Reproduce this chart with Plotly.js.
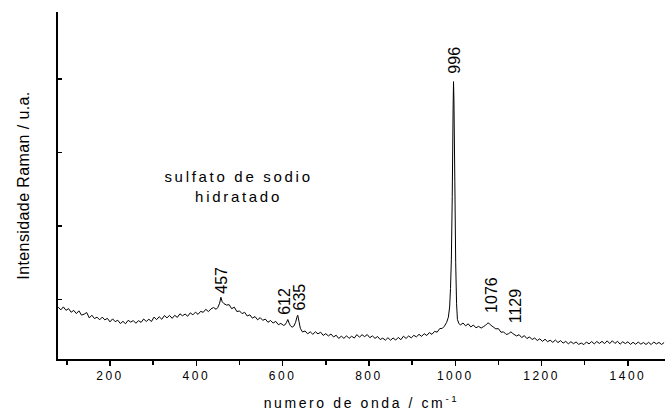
<!DOCTYPE html>
<html>
<head>
<meta charset="utf-8">
<script src="https://cdn.plot.ly/plotly-3.0.1.min.js"></script>
<style>
html, body { margin: 0; padding: 0; background: #ffffff; }
#chart { width: 665px; height: 414px; }
.xtick text { letter-spacing: 2.5px; }
.g-xtitle text { letter-spacing: 2.6px; }
.annotation[data-index="6"] text { letter-spacing: 2.7px; }
.g-ytitle text { letter-spacing: 0.4px; }
</style>
</head>
<body>
<div id="chart"></div>
<script>
// Raman spectrum: wavenumber (cm^-1) and intensity (arbitrary units)
const wavenumber = [80,86,92,98,104,110,116,122,128,134,140,146,152,158,164,170,176,182,188,194,200,206,212,218,224,230,236,242,248,254,260,266,272,278,284,290,296,302,308,314,320,326,332,338,344,350,356,362,368,374,380,386,392,398,404,410,416,422,428,434,440,446,450,454,457,460,464,470,476,482,488,494,500,506,512,518,524,530,536,542,548,554,560,566,572,578,584,590,596,602,606,609,612,615,618,622,626,630,633,635,638,641,646,652,658,664,670,676,682,688,694,700,706,712,718,724,730,736,742,748,754,760,766,772,778,784,790,796,802,808,814,820,826,832,838,844,850,856,862,868,874,880,886,892,898,904,910,916,922,928,934,940,946,952,958,964,970,975,980,984,987,989,991,993,995,996,997,999,1001,1003,1005,1008,1012,1018,1024,1030,1036,1042,1048,1054,1060,1066,1070,1073,1076,1079,1083,1088,1094,1100,1106,1112,1118,1123,1126,1129,1132,1136,1142,1148,1154,1160,1166,1172,1178,1184,1190,1196,1202,1208,1214,1220,1226,1232,1238,1244,1250,1256,1262,1268,1274,1280,1286,1292,1298,1304,1310,1316,1322,1328,1334,1340,1346,1352,1358,1364,1370,1376,1382,1388,1394,1400,1406,1412,1418,1424,1430,1436,1442,1448,1454,1460,1466,1472,1478,1484];
const intensity = [897,860,901,854,877,828,853,809,847,789,802,824,751,787,742,761,725,762,724,745,697,738,700,719,674,704,672,718,694,715,678,714,690,736,702,733,702,762,727,767,732,783,752,785,745,786,758,807,780,803,774,820,792,829,799,840,827,868,837,874,892,868,895,950,1031,970,945,925,931,876,897,837,846,809,827,777,793,747,770,725,755,718,735,691,716,681,704,659,676,649,660,690,729,680,645,625,640,690,760,787,700,610,560,573,535,562,528,562,534,557,513,537,506,532,492,516,472,502,473,508,473,502,477,524,489,523,496,525,482,507,473,498,457,476,448,482,448,478,450,486,455,503,472,506,479,514,493,528,500,537,512,552,527,568,557,606,609,640,690,760,900,1150,1550,2400,3600,3962,3700,2600,1500,950,730,680,654,682,643,671,628,654,616,636,613,635,650,668,684,672,650,628,602,605,556,561,526,535,548,562,545,528,506,523,484,510,470,493,457,478,444,467,432,461,428,448,419,450,416,442,409,432,399,428,401,424,391,410,388,424,398,430,398,430,404,432,402,439,402,441,404,433,394,427,402,427,391,420,393,423,394,417,390,419,389,424,397,418,390,417];

// Peak labels
const peakPos = [457, 612, 635, 996, 1076, 1129];
const peakVal = [1031, 729, 787, 3962, 684, 562];
const peakText = ['457', '612', '635', '996', '1076', '1129'];

// Axis ticks
const xTickVals = [200, 400, 600, 800, 1000, 1200, 1400];
const xTickText = ['200', '400', '600', '800', '1000', '1200', '1400'];
const yTickVals = [1000, 2000, 3000, 4000];

const sampleText = 'sulfato de sodio<br>hidratado';

const FONT = 'Liberation Sans, Arial, Helvetica, sans-serif';

const peakXShift = [1, -4, 2, 1, 4, 4];
const peakYShift = [2, 3, 3, 6, 8, 7];

const annotations = peakPos.map((p, i) => ({
  x: p, y: peakVal[i], xref: 'x', yref: 'y',
  text: peakText[i], showarrow: false, textangle: -90,
  xanchor: 'center', yanchor: 'bottom',
  xshift: peakXShift[i], yshift: peakYShift[i],
  font: { family: FONT, size: 16, color: '#000' }
}));
annotations.push({
  x: 0.298, y: 0.497, xref: 'paper', yref: 'paper',
  text: sampleText, showarrow: false, align: 'center',
  xanchor: 'center', yanchor: 'middle',
  font: { family: FONT, size: 15, color: '#000' }
});

const trace = {
  x: wavenumber, y: intensity, type: 'scatter', mode: 'lines',
  line: { color: '#000000', width: 1, simplify: false }, hoverinfo: 'skip'
};

const layout = {
  width: 665, height: 414,
  margin: { l: 58, r: 0, t: 12, b: 55, pad: 0 },
  paper_bgcolor: '#ffffff', plot_bgcolor: '#ffffff',
  showlegend: false,
  font: { family: FONT, color: '#000' },
  xaxis: {
    range: [79.5, 1486],
    tickmode: 'array', tickvals: xTickVals, ticktext: xTickText,
    ticks: 'outside', ticklen: 5, tickwidth: 1.5, tickcolor: '#000',
    minor: { tickmode: 'linear', tick0: 0, dtick: 100, ticks: 'outside', ticklen: 4, tickwidth: 1.5, tickcolor: '#000', showgrid: false },
    showline: true, linewidth: 2, linecolor: '#000',
    showgrid: false, zeroline: false,
    tickfont: { family: FONT, size: 12, color: '#000' },
    title: { text: 'numero de onda / cm<sup>-1</sup>', font: { family: FONT, size: 14, color: '#000' }, standoff: 16 }
  },
  yaxis: {
    range: [192.6, 4908],
    tickmode: 'array', tickvals: yTickVals,
    showticklabels: false,
    ticks: 'inside', ticklen: 4, tickwidth: 1.5, tickcolor: '#000',
    showline: true, linewidth: 2, linecolor: '#000',
    showgrid: false, zeroline: false,
    title: { text: 'Intensidade Raman / u.a.', font: { family: FONT, size: 16, color: '#000' }, standoff: 22 }
  },
  annotations: annotations
};

Plotly.newPlot('chart', [trace], layout, { staticPlot: true, displayModeBar: false });
</script>
</body>
</html>
